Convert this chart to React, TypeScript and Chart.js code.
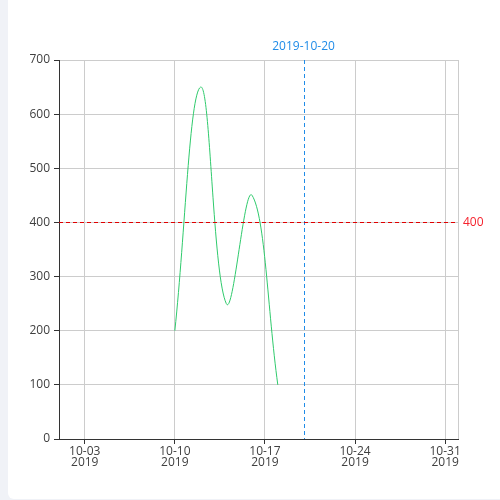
import React, { useEffect, useRef } from "react";
import { Chart, registerables } from "chart.js";

Chart.register(...registerables);

const dates = ["2019-10-10", "2019-10-12", "2019-10-14", "2019-10-16", "2019-10-18"];
const values = [200, 650, 250, 450, 100];
const tickDates = ["2019-10-03", "2019-10-10", "2019-10-17", "2019-10-24", "2019-10-31"];
const xMinDate = "2019-10-01";
const xMaxDate = "2019-11-01";
const markerDate = "2019-10-20";
const markerValue = 400;
const yTicks = [0, 100, 200, 300, 400, 500, 600, 700];

const ts = (s: string) => {
  const [y, m, d] = s.split("-").map(Number);
  return Date.UTC(y, m - 1, d);
};
const pad = (n: number) => (n < 10 ? "0" + n : "" + n);

const FONT = "'Open Sans', 'Noto Sans', sans-serif";

const markerPlugin = {
  id: "markers",
  afterDatasetsDraw(chart: any) {
    const { ctx, chartArea, scales } = chart;
    const x = scales.x.getPixelForValue(ts(markerDate));
    const y = scales.y.getPixelForValue(markerValue);
    ctx.save();
    ctx.lineWidth = 1;
    ctx.setLineDash([4, 3]);
    ctx.strokeStyle = "#1f8ce8";
    ctx.beginPath();
    ctx.moveTo(Math.round(x) + 0.5, chartArea.top);
    ctx.lineTo(Math.round(x) + 0.5, chartArea.bottom);
    ctx.stroke();
    ctx.strokeStyle = "#e00000";
    ctx.beginPath();
    ctx.moveTo(chartArea.left, Math.round(y) + 0.5);
    ctx.lineTo(chartArea.right, Math.round(y) + 0.5);
    ctx.stroke();
    ctx.setLineDash([]);
    ctx.font = "12px " + FONT;
    ctx.fillStyle = "#1f8ce8";
    ctx.textAlign = "center";
    ctx.textBaseline = "middle";
    ctx.fillText(markerDate, x, chartArea.top - 13);
    ctx.fillStyle = "#f5222d";
    ctx.textAlign = "left";
    ctx.fillText(String(markerValue), chartArea.right + 5, y);
    ctx.restore();
  },
};

export default function App() {
  const ref = useRef<HTMLCanvasElement>(null);
  useEffect(() => {
    document.body.style.margin = "0";
    document.body.style.background = "#f0f2f7";
    const chart = new Chart(ref.current!, {
      type: "line",
      data: {
        datasets: [
          {
            data: dates.map((d, i) => ({ x: ts(d), y: values[i] })),
            borderColor: "#2fca6c",
            borderWidth: 1,
            pointRadius: 0,
            tension: 0.4,
            fill: false,
          },
        ],
      },
      options: {
        animation: false,
        responsive: false,
        devicePixelRatio: 1,
        layout: { padding: { left: 0, right: 42, top: 60, bottom: 0 } },
        plugins: { legend: { display: false }, tooltip: { enabled: false } },
        scales: {
          x: {
            type: "linear",
            min: ts(xMinDate),
            max: ts(xMaxDate),
            afterBuildTicks: (s: any) => {
              s.ticks = [...tickDates.map((d) => ({ value: ts(d) })), { value: ts(xMaxDate) }];
            },
            afterFit: (s: any) => {
              s.height = 61;
            },
            grid: {
              color: "#cccccc",
              tickLength: 5,
              tickColor: (c: any) => (c.tick && c.tick.value === ts(xMaxDate) ? "rgba(0,0,0,0)" : "#333333"),
            },
            border: { color: "#333333", width: 1 },
            ticks: {
              autoSkip: false,
              maxRotation: 0,
              color: "#404040",
              padding: 2,
              font: { family: FONT, size: 12, lineHeight: 0.9 },
              callback: (v: any) => {
                if (v === ts(xMaxDate)) return "";
                const d = new Date(v);
                return [pad(d.getUTCMonth() + 1) + "-" + pad(d.getUTCDate()), String(d.getUTCFullYear())];
              },
            },
          },
          y: {
            min: 0,
            max: 700,
            afterBuildTicks: (s: any) => {
              s.ticks = yTicks.map((v) => ({ value: v }));
            },
            afterFit: (s: any) => {
              s.width = 59;
            },
            grid: { color: "#cccccc", tickLength: 5, tickColor: "#333333" },
            border: { color: "#333333", width: 1 },
            ticks: {
              color: "#404040",
              padding: 4,
              font: { family: FONT, size: 12 },
            },
          },
        },
      },
      plugins: [markerPlugin],
    });
    return () => chart.destroy();
  }, []);
  return (
    <div style={{ position: "relative", width: 500, height: 500, overflow: "hidden", background: "#f0f2f7" }}>
      <div
        style={{
          position: "absolute",
          left: 8,
          top: -8,
          width: 520,
          height: 507,
          background: "#fff",
          borderRadius: 6,
        }}
      />
      <canvas ref={ref} width={500} height={500} style={{ position: "absolute", left: 0, top: 0, width: 500, height: 500 }} />
    </div>
  );
}
